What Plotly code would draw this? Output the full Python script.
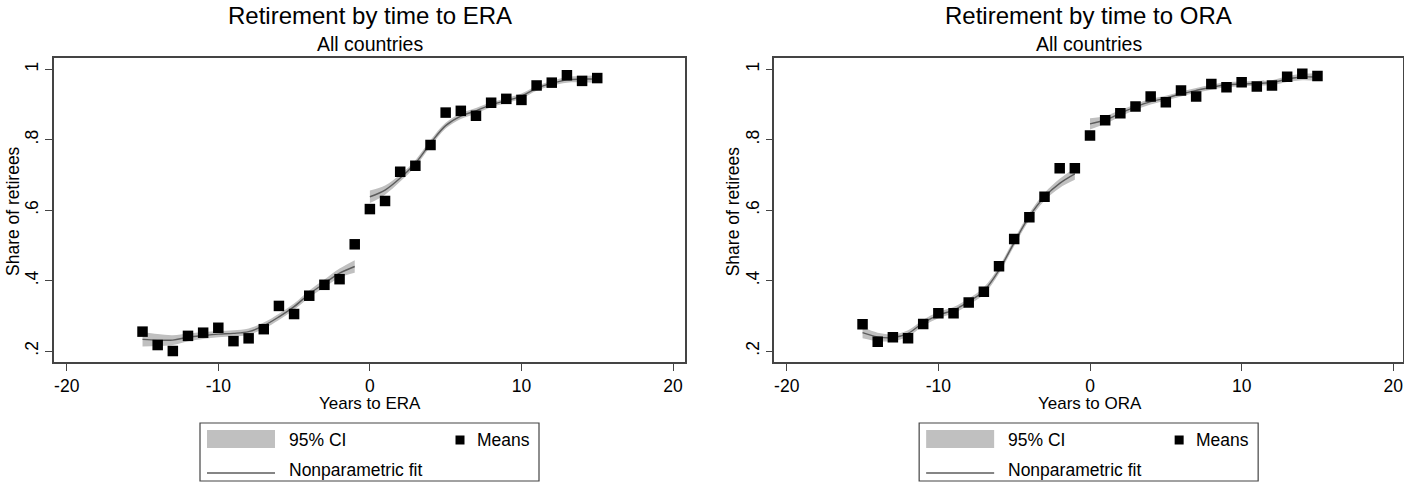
import plotly.graph_objects as go

# ---------------- data ----------------
years_pre = [-15, -14, -13, -12, -11, -10, -9, -8, -7, -6, -5, -4, -3, -2, -1]
years_post = [0, 1, 2, 3, 4, 5, 6, 7, 8, 9, 10, 11, 12, 13, 14, 15]

# ERA panel
era_means_pre = [0.255, 0.217, 0.200, 0.243, 0.252, 0.266, 0.228, 0.236, 0.262, 0.328,
                 0.305, 0.357, 0.388, 0.404, 0.503]
era_means_post = [0.603, 0.626, 0.709, 0.726, 0.785, 0.877, 0.882, 0.868, 0.905, 0.916,
                  0.913, 0.954, 0.962, 0.983, 0.967, 0.975]
era_fit_pre = [0.233, 0.231, 0.231, 0.239, 0.244, 0.248, 0.250, 0.255, 0.272, 0.297,
               0.326, 0.362, 0.392, 0.421, 0.440]
era_fit_post = [0.638, 0.657, 0.691, 0.733, 0.790, 0.840, 0.867, 0.882, 0.899, 0.911,
                0.924, 0.946, 0.960, 0.970, 0.972, 0.972]
era_hw_pre = [0.020, 0.017, 0.014, 0.011, 0.010, 0.009, 0.009, 0.009, 0.009, 0.009,
              0.009, 0.010, 0.011, 0.013, 0.018]
era_hw_post = [0.018, 0.013, 0.010, 0.009, 0.009, 0.008, 0.008, 0.008, 0.007, 0.007,
               0.007, 0.007, 0.007, 0.008, 0.009, 0.011]

# ORA panel
ora_means_pre = [0.276, 0.226, 0.239, 0.236, 0.277, 0.307, 0.307, 0.338, 0.368, 0.441,
                 0.518, 0.580, 0.638, 0.719, 0.719]
ora_means_post = [0.812, 0.855, 0.875, 0.894, 0.923, 0.906, 0.940, 0.923, 0.958, 0.949,
                  0.963, 0.951, 0.954, 0.979, 0.987, 0.981]
ora_fit_pre = [0.252, 0.240, 0.238, 0.250, 0.280, 0.302, 0.316, 0.340, 0.371, 0.430,
               0.508, 0.582, 0.638, 0.676, 0.703]
ora_fit_post = [0.845, 0.856, 0.875, 0.893, 0.908, 0.918, 0.930, 0.940, 0.949, 0.956,
                0.958, 0.960, 0.962, 0.972, 0.978, 0.978]
ora_hw_pre = [0.016, 0.012, 0.010, 0.009, 0.009, 0.009, 0.009, 0.009, 0.010, 0.010,
              0.010, 0.010, 0.011, 0.013, 0.017]
ora_hw_post = [0.016, 0.011, 0.009, 0.008, 0.008, 0.007, 0.007, 0.007, 0.007, 0.007,
               0.007, 0.007, 0.007, 0.008, 0.009, 0.011]

titles = ["Retirement by time to ERA", "Retirement by time to ORA"]
subtitle = "All countries"
x_titles = ["Years to ERA", "Years to ORA"]
y_title = "Share of retirees"
x_ticks = [-20, -10, 0, 10, 20]
x_tick_labels = ["-20", "-10", "0", "10", "20"]
y_ticks = [0.2, 0.4, 0.6, 0.8, 1.0]
y_tick_labels = [".2", ".4", ".6", ".8", "1"]
legend_labels = ["95% CI", "Means", "Nonparametric fit"]

# ---------------- styling ----------------
W, H = 1404, 482
FONT = "Liberation Sans, Arial, sans-serif"
BAND = "#c0c0c0"
FITC = "#5c5c5c"
FRAME = "#444444"


def px(x):
    return x / W


def py(y):
    return 1 - y / H


panels = [
    dict(mp=era_means_pre, mq=era_means_post, fp=era_fit_pre, fq=era_fit_post,
         hp=era_hw_pre, hq=era_hw_post, dom=(54, 685), xr=(-20.84, 20.79)),
    dict(mp=ora_means_pre, mq=ora_means_post, fp=ora_fit_pre, fq=ora_fit_post,
         hp=ora_hw_pre, hq=ora_hw_post, dom=(774.3, 1403), xr=(-20.82, 20.64)),
]

fig = go.Figure()
annotations = []
shapes = []

for i, p in enumerate(panels):
    xa = "x" if i == 0 else "x2"
    ya = "y" if i == 0 else "y2"
    for xs, fit, hw in [(years_pre, p["fp"], p["hp"]), (years_post, p["fq"], p["hq"])]:
        lo = [f - h for f, h in zip(fit, hw)]
        hi = [f + h for f, h in zip(fit, hw)]
        fig.add_trace(go.Scatter(x=xs, y=lo, mode="lines", line=dict(width=0, color=BAND),
                                 line_shape="spline", showlegend=False, hoverinfo="skip",
                                 xaxis=xa, yaxis=ya))
        fig.add_trace(go.Scatter(x=xs, y=hi, mode="lines", line=dict(width=0, color=BAND),
                                 line_shape="spline", fill="tonexty", fillcolor=BAND,
                                 showlegend=False, hoverinfo="skip", xaxis=xa, yaxis=ya))
        fig.add_trace(go.Scatter(x=xs, y=fit, mode="lines", line=dict(width=1.4, color=FITC),
                                 line_shape="spline", showlegend=False, xaxis=xa, yaxis=ya))
    for xs, means in [(years_pre, p["mp"]), (years_post, p["mq"])]:
        fig.add_trace(go.Scatter(x=xs, y=means, mode="markers",
                                 marker=dict(symbol="square", size=10.5, color="black",
                                             line=dict(width=0)),
                                 showlegend=False, xaxis=xa, yaxis=ya))

    d0, d1 = p["dom"]
    axis_common = dict(showgrid=False, zeroline=False, showline=True, linecolor=FRAME,
                       linewidth=1.5, mirror=True, ticks="outside", ticklen=7,
                       tickcolor=FRAME, tickwidth=1.2,
                       tickfont=dict(family=FONT, size=17.5, color="black"))
    xkey = "xaxis" if i == 0 else "xaxis2"
    ykey = "yaxis" if i == 0 else "yaxis2"
    fig.update_layout(**{
        xkey: dict(domain=[px(d0), px(d1)], range=list(p["xr"]), tickvals=x_ticks,
                   ticktext=x_tick_labels, anchor=ya, **axis_common),
        ykey: dict(domain=[py(362), py(58)], range=[0.1688, 1.032], tickvals=y_ticks,
                   ticktext=y_tick_labels, tickangle=-90, anchor=xa, **axis_common),
    })

    cx = (d0 + d1) / 2
    # titles
    annotations.append(dict(text=titles[i], x=px(cx), y=py(16), xref="paper", yref="paper",
                            showarrow=False, xanchor="center", yanchor="middle",
                            font=dict(family=FONT, size=24, color="black")))
    annotations.append(dict(text=subtitle, x=px(cx), y=py(44), xref="paper", yref="paper",
                            showarrow=False, xanchor="center", yanchor="middle",
                            font=dict(family=FONT, size=19.5, color="black")))
    # axis titles
    zero_px = d0 + (0 - p["xr"][0]) / (p["xr"][1] - p["xr"][0]) * (d1 - d0)
    annotations.append(dict(text=x_titles[i], x=px(zero_px), y=py(403), xref="paper",
                            yref="paper", showarrow=False, xanchor="center",
                            yanchor="middle",
                            font=dict(family=FONT, size=17, color="black")))
    annotations.append(dict(text=y_title, x=px(d0 - 41), y=py(211), xref="paper",
                            yref="paper", showarrow=False, textangle=-90,
                            xanchor="center", yanchor="middle",
                            font=dict(family=FONT, size=17.5, color="black")))

    # legend (drawn manually to reproduce the Stata layout)
    bl = cx - 169.5
    shapes.append(dict(type="rect", xref="paper", yref="paper", x0=px(bl), x1=px(bl + 339),
                       y0=py(481), y1=py(423), line=dict(color=FRAME, width=1.2),
                       fillcolor="white", layer="above"))
    shapes.append(dict(type="rect", xref="paper", yref="paper", x0=px(bl + 7),
                       x1=px(bl + 75), y0=py(448), y1=py(430), line=dict(width=0),
                       fillcolor=BAND))
    shapes.append(dict(type="line", xref="paper", yref="paper", x0=px(bl + 7),
                       x1=px(bl + 75), y0=py(473), y1=py(473),
                       line=dict(color=FITC, width=1.4)))
    shapes.append(dict(type="rect", xref="paper", yref="paper", x0=px(bl + 255.5),
                       x1=px(bl + 264.5), y0=py(444.5), y1=py(435.5), line=dict(width=0),
                       fillcolor="black"))
    for txt, lx, ly in [(legend_labels[0], bl + 87, 440), (legend_labels[1], bl + 275, 440),
                        (legend_labels[2], bl + 87, 470)]:
        annotations.append(dict(text=txt, x=px(lx), y=py(ly), xref="paper", yref="paper",
                                showarrow=False, xanchor="left", yanchor="middle",
                                font=dict(family=FONT, size=17.5, color="black")))

fig.update_layout(width=W, height=H, margin=dict(l=0, r=0, t=0, b=0),
                  paper_bgcolor="white", plot_bgcolor="white", showlegend=False,
                  annotations=annotations, shapes=shapes,
                  font=dict(family=FONT, color="black"))

fig.write_html("out.html")
